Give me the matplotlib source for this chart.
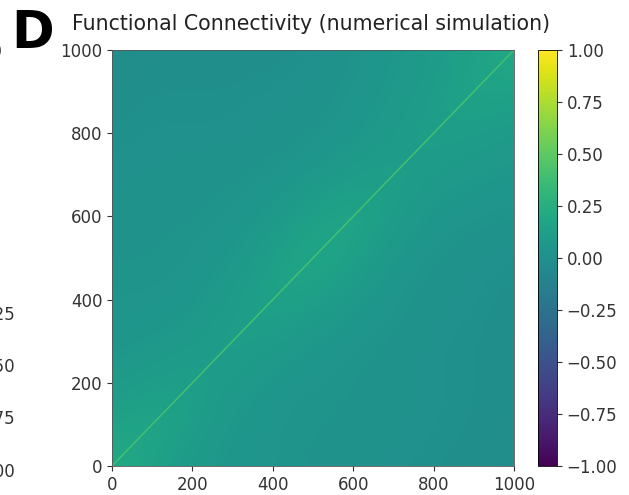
import numpy as np
import matplotlib
matplotlib.use("Agg")
import matplotlib.pyplot as plt
from matplotlib.colors import Normalize
from matplotlib.cm import ScalarMappable

# Coarse functional-connectivity field sampled every 100 neurons (symmetric)
node_positions = [0, 100, 200, 300, 400, 500, 600, 700, 800, 900, 1000]
fc_nodes = [
    [0.22, 0.15, 0.08, 0.05, 0.04, 0.03, 0.02, 0.01, 0.00, -0.01, -0.02],
    [0.15, 0.18, 0.12, 0.06, 0.04, 0.03, 0.03, 0.02, 0.01, 0.00, -0.01],
    [0.08, 0.12, 0.13, 0.09, 0.05, 0.04, 0.03, 0.02, 0.01, 0.00, -0.01],
    [0.05, 0.06, 0.09, 0.13, 0.10, 0.06, 0.04, 0.03, 0.01, 0.00, -0.01],
    [0.04, 0.04, 0.05, 0.10, 0.16, 0.13, 0.07, 0.04, 0.02, 0.01, -0.01],
    [0.03, 0.03, 0.04, 0.06, 0.13, 0.20, 0.14, 0.06, 0.03, 0.02, 0.00],
    [0.02, 0.03, 0.03, 0.04, 0.07, 0.14, 0.18, 0.11, 0.05, 0.04, 0.03],
    [0.01, 0.02, 0.02, 0.03, 0.04, 0.06, 0.11, 0.13, 0.09, 0.07, 0.06],
    [0.00, 0.01, 0.01, 0.01, 0.02, 0.03, 0.05, 0.09, 0.13, 0.11, 0.09],
    [-0.01, 0.00, 0.00, 0.00, 0.01, 0.02, 0.04, 0.07, 0.11, 0.17, 0.14],
    [-0.02, -0.01, -0.01, -0.01, -0.01, 0.00, 0.03, 0.06, 0.09, 0.14, 0.22],
]
self_connectivity = 0.40   # value along the main diagonal
n_neurons = 1000
axis_ticks = [0, 200, 400, 600, 800, 1000]
cbar_ticks = [-1.0, -0.75, -0.5, -0.25, 0.0, 0.25, 0.5, 0.75, 1.0]

W, H = 629, 495
fig = plt.figure(figsize=(W / 100, H / 100), dpi=100)
plt.rcParams["font.family"] = "DejaVu Sans"

cmap = plt.get_cmap("viridis")
norm = Normalize(vmin=-1, vmax=1)

def px_rect(x0, y0, x1, y1):
    return [x0 / W, 1 - y1 / H, (x1 - x0) / W, (y1 - y0) / H]

ax = fig.add_axes(px_rect(112, 50, 514, 466))
step = node_positions[1] - node_positions[0]
ax.imshow(np.array(fc_nodes), cmap=cmap, norm=norm, origin="lower",
          interpolation="bicubic", aspect="auto",
          extent=[node_positions[0] - step / 2, node_positions[-1] + step / 2,
                  node_positions[0] - step / 2, node_positions[-1] + step / 2])
ax.plot([0, n_neurons], [0, n_neurons], color=cmap(norm(self_connectivity)),
        lw=1.1, solid_capstyle="butt")
ax.set_xlim(0, n_neurons)
ax.set_ylim(0, n_neurons)
ax.set_xticks(axis_ticks)
ax.set_yticks(axis_ticks)
ax.tick_params(labelsize=12, colors="#333333")
for s in ax.spines.values():
    s.set_linewidth(0.6)
    s.set_color("#555555")

# colour bar of this panel
cax = fig.add_axes(px_rect(538, 50, 557, 466))
cb = fig.colorbar(ScalarMappable(norm=norm, cmap=cmap), cax=cax, ticks=cbar_ticks)
cb.ax.set_yticklabels([f"{t:.2f}".replace("-", "\u2212") for t in cbar_ticks])
cb.ax.tick_params(labelsize=12, colors="#333333")
cb.outline.set_linewidth(0.6)

# colour bar of the neighbouring panel (only its labels reach this view)
cax_prev = fig.add_axes(px_rect(-64, 50, -45, 470))
cb_prev = fig.colorbar(ScalarMappable(norm=norm, cmap=cmap), cax=cax_prev, ticks=cbar_ticks)
cb_prev.ax.set_yticklabels([f"{t:.2f}".replace("-", "\u2212") for t in cbar_ticks])
cb_prev.ax.tick_params(labelsize=12, colors="#333333")

fig.text(311 / W, 1 - 24 / H, "Functional Connectivity (numerical simulation)",
         ha="center", va="center", fontsize=14.8, color="#222222")
fig.text(11 / W, 1 - 48 / H, "D", ha="left", va="baseline", fontsize=37,
         fontweight="bold", color="black")

fig.savefig("out.png", dpi=100)
